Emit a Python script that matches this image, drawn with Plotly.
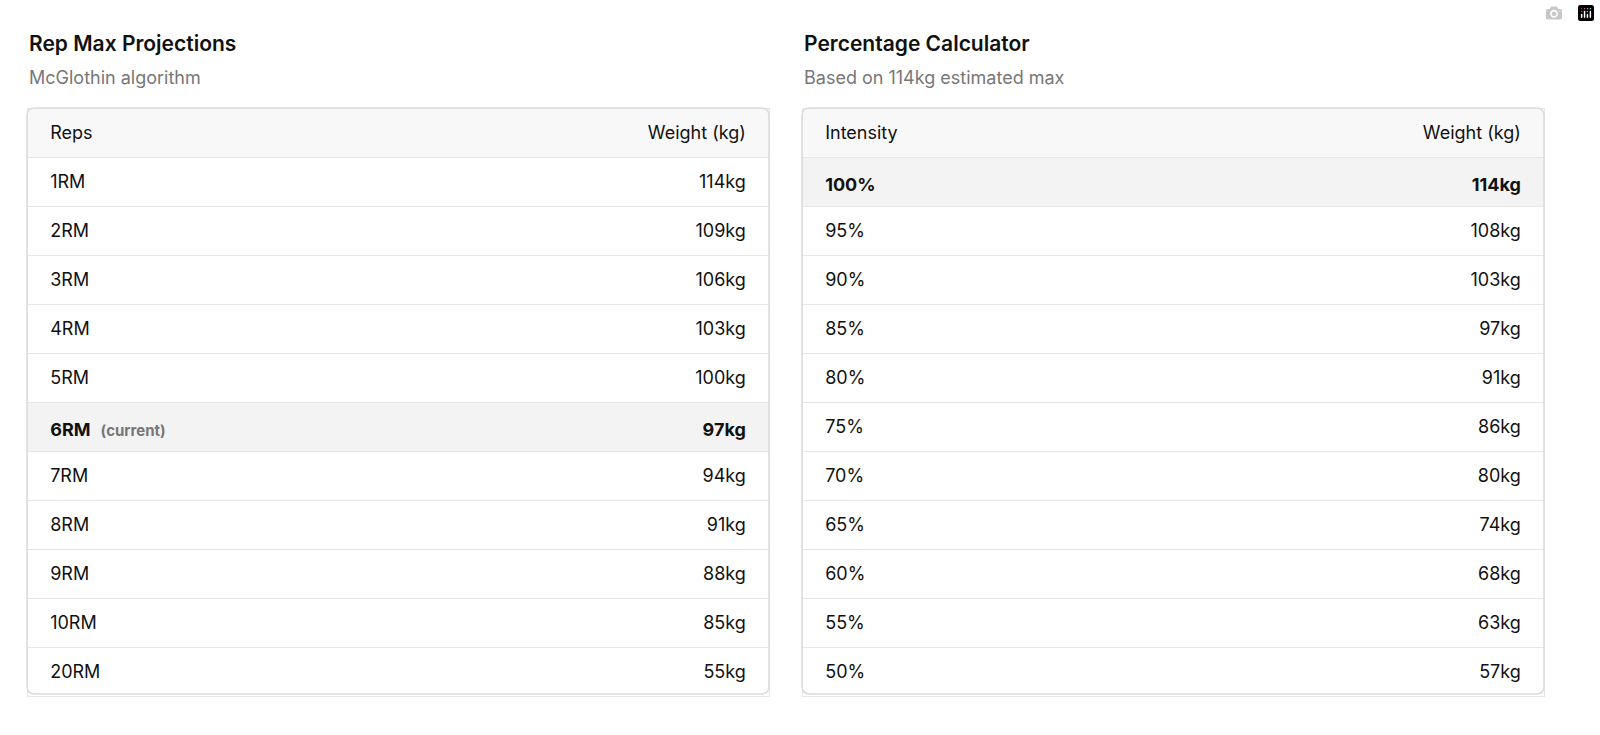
import plotly.graph_objects as go

# Rep max table (McGlothin) and percentage calculator
rep_labels = ["1RM", "2RM", "3RM", "4RM", "5RM", "6RM", "7RM", "8RM", "9RM", "10RM", "20RM"]
rep_weights = [114, 109, 106, 103, 100, 97, 94, 91, 88, 85, 55]
current_idx = 5

pct_labels = [100, 95, 90, 85, 80, 75, 70, 65, 60, 55, 50]
pct_weights = [114, 108, 103, 97, 91, 86, 80, 74, 68, 63, 57]
max_idx = 0

W, H = 1600, 735
ROW = 49
TOP = 108
SHIFT = 9
PAD = "\u00a0\u00a0\u00a0"
BORDER = "#e6e6e6"
FONT = "Inter"
CLEAR = "rgba(0,0,0,0)"


def add_block(fig, labels, values, hl, head, x0, x1, current=False):
    col1, col2, fills = [], [], []
    for i, (lab, val) in enumerate(zip(labels, values)):
        if i == hl:
            extra = ('  <span style="font-size:15px;color:#777"><b>(current)</b></span>'
                     if current else "")
            col1.append(PAD + "<b>" + lab + "</b>" + extra)
            col2.append(f"<b>{val}kg</b>" + PAD)
            fills.append("#f3f3f3")
        else:
            col1.append(PAD + lab)
            col2.append(f"{val}kg" + PAD)
            fills.append("white")
    dx = [x0 / W, x1 / W]
    font = dict(family=FONT, size=18, color="#111")
    # background: fills and row lines
    fig.add_trace(go.Table(
        domain=dict(x=dx, y=[0, 1 - TOP / H]),
        header=dict(values=[""], fill_color="#f8f8f8", line=dict(color=BORDER, width=1), height=ROW),
        cells=dict(values=[[""] * len(labels)], fill_color=[fills],
                   line=dict(color=BORDER, width=1), height=ROW)))
    # text overlay, shifted down to centre text in rows
    for hv, cv, al in [(PAD + head[0], col1, "left"), (head[1] + PAD, col2, "right")]:
        fig.add_trace(go.Table(
            domain=dict(x=dx, y=[0, 1 - (TOP + SHIFT) / H]),
            header=dict(values=[hv], align=al, fill_color=CLEAR, line=dict(width=0, color=CLEAR),
                        font=font, height=ROW),
            cells=dict(values=[cv], align=al, fill_color=CLEAR, line=dict(width=0, color=CLEAR),
                       font=font, height=ROW)))


fig = go.Figure()
add_block(fig, rep_labels, rep_weights, current_idx, ["Reps", "Weight (kg)"], 27, 769, current=True)
add_block(fig, [f"{p}%" for p in pct_labels], pct_weights, max_idx, ["Intensity", "Weight (kg)"], 802, 1544)


def rounded(x0, y0, x1, y1, rx, ry):
    return (f"M{x0+rx},{y0} L{x1-rx},{y0} Q{x1},{y0} {x1},{y0-ry} L{x1},{y1+ry} Q{x1},{y1} {x1-rx},{y1} "
            f"L{x0+rx},{y1} Q{x0},{y1} {x0},{y1+ry} L{x0},{y0-ry} Q{x0},{y0} {x0+rx},{y0} Z")


for x0, x1 in [(27, 769), (802, 1544)]:
    fig.add_shape(type="path", xref="paper", yref="paper", line=dict(color="#dcdcdc", width=1.5),
                  path=rounded(x0 / W, 1 - TOP / H, x1 / W, 1 - 694 / H, 8 / W, 8 / H))

titles = [(27, "Rep Max Projections", "McGlothin algorithm"),
          (802, "Percentage Calculator", "Based on 114kg estimated max")]
for x, t, s in titles:
    fig.add_annotation(x=x / W, y=1 - 43 / H, xref="paper", yref="paper", xanchor="left", yanchor="middle",
                       text=t, showarrow=False, font=dict(family=FONT, size=21, color="#111", weight=600))
    fig.add_annotation(x=x / W, y=1 - 78 / H, xref="paper", yref="paper", xanchor="left", yanchor="middle",
                       text=s, showarrow=False, font=dict(family=FONT, size=18, color="#777"))

fig.update_layout(width=W, height=H, margin=dict(l=0, r=0, t=0, b=0),
                  paper_bgcolor="white", plot_bgcolor="white")
fig.write_html("out.html", post_script="document.body.style.margin='0';")
